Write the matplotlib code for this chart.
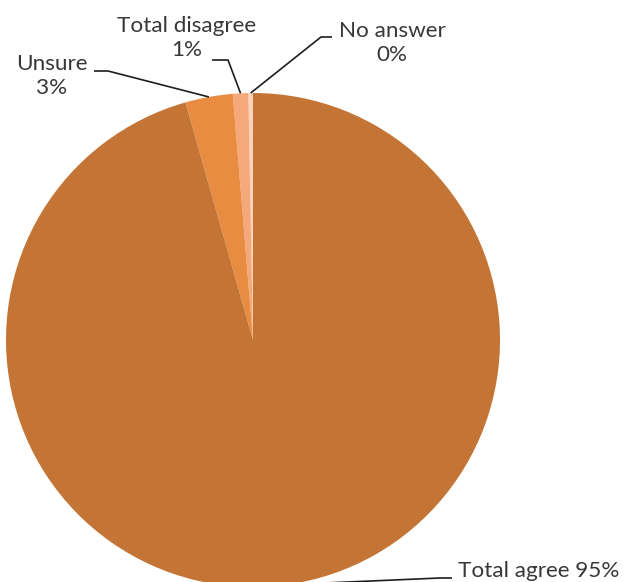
import numpy as np
import matplotlib.pyplot as plt

plt.rcParams['font.family'] = ['Lato', 'DejaVu Sans']

labels = ['No answer', 'Total disagree', 'Unsure', 'Total agree']
shares = [0.3, 1.0, 3.1, 95.4]
colors = ['#f9d3bb', '#f5a97a', '#e88c42', '#c47535']

W, H = 627, 582
cx, cy, R = 253, 340, 247  # pie centre and radius in pixels


def to_data(px, py):
    return (px - cx) / R, (cy - py) / R


fig = plt.figure(figsize=(W / 100, H / 100), dpi=100)
ax = fig.add_axes([0, 0, 1, 1])

wedges, _ = ax.pie(shares, colors=colors, startangle=90, counterclock=True,
                   wedgeprops=dict(linewidth=0))
ax.set_xlim(-cx / R, (W - cx) / R)
ax.set_ylim(-(H - cy) / R, cy / R)
ax.set_aspect('auto')
ax.axis('off')


def edge_point(w):
    a = np.deg2rad((w.theta1 + w.theta2) / 2)
    return np.cos(a), np.sin(a)


# label text position, leader elbow points (pixels), alignment
layout = {
    'Unsure':         dict(text=(52, 76), pts=[(94, 71), (108, 71)], ha='center', one_line=False),
    'Total disagree': dict(text=(187, 38), pts=[(212, 60), (228, 60)], ha='center', one_line=False),
    'No answer':      dict(text=(392, 43), pts=[(332, 37), (321, 37)], ha='center', one_line=False),
    'Total agree':    dict(text=(458, 571), pts=[(452, 578), (440, 578)], ha='left', one_line=True),
}

for w, lab, val in zip(wedges, labels, shares):
    cfg = layout[lab]
    pct = f"{round(val):.0f}%"
    txt = f"{lab} {pct}" if cfg['one_line'] else f"{lab}\n{pct}"
    tx, ty = to_data(*cfg['text'])
    ax.text(tx, ty, txt, ha=cfg['ha'], va='center', fontsize=16.2,
            color='#383838', linespacing=1.22)
    xs, ys = zip(*[to_data(*p) for p in cfg['pts']])
    ex, ey = edge_point(w)
    ax.plot(list(xs) + [ex], list(ys) + [ey], color='#1e1e1e', lw=1.2,
            solid_capstyle='butt', clip_on=False)

fig.savefig('out.png', dpi=100)
